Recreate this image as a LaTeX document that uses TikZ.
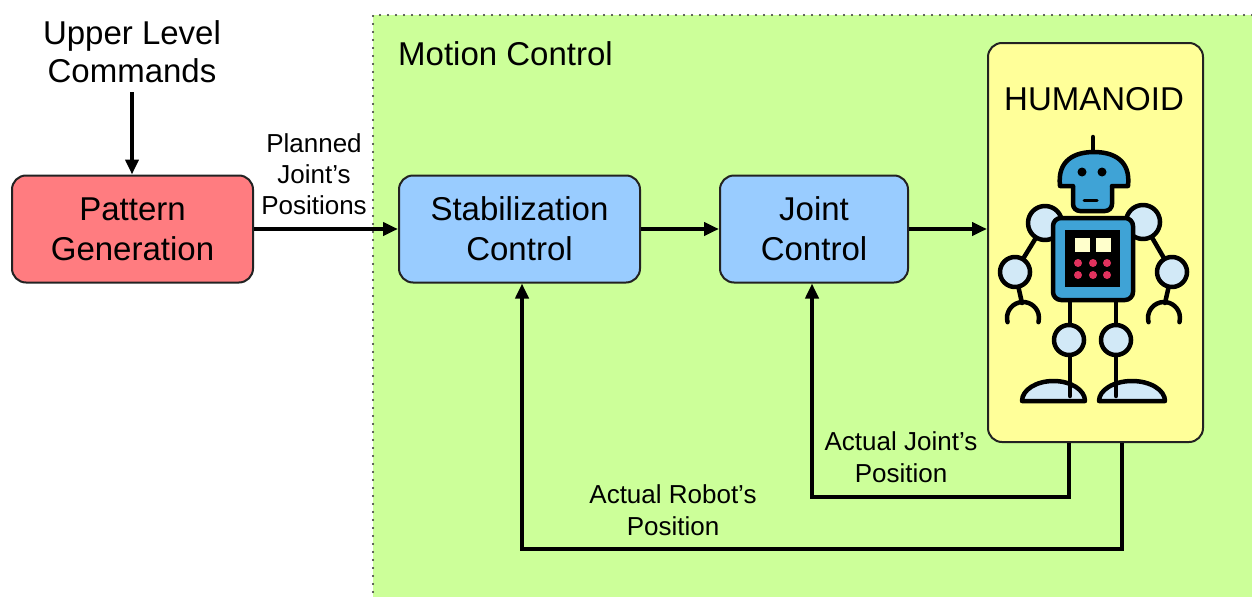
\documentclass[tikz,border=0pt]{standalone}
\usepackage{fontspec}
\setmainfont{Liberation Sans}
\usetikzlibrary{arrows.meta}
\definecolor{zone}{HTML}{CCFF99}
\definecolor{pgred}{HTML}{FF7C80}
\definecolor{ctlblue}{HTML}{99CCFF}
\definecolor{robotbox}{HTML}{FFFF99}
\definecolor{boxline}{HTML}{222222}
\definecolor{rbblue}{HTML}{3FA3D6}
\definecolor{rbjoint}{HTML}{D2E9F7}
\definecolor{rbred}{HTML}{E2325E}
\definecolor{rbscreen}{HTML}{FFFFCC}
\begin{document}
\begin{tikzpicture}[x=1pt,y=-1pt,
  box/.style={draw=boxline, line width=2pt, rounded corners=14pt,
    font=\fontsize{33}{40}\selectfont, align=center, inner sep=0pt},
  arr/.style={-{Triangle[length=15pt,width=13pt]}, line width=3.8pt},
  lbl/.style={font=\fontsize{26}{32}\selectfont, align=center, inner sep=0pt},
  rb/.style={line width=4.5pt, draw=black, line cap=round, line join=round}]
\useasboundingbox (0,0) rectangle (1252,597);

% motion control zone, dotted on its top and left sides
\fill[zone] (373,15) rectangle (1252,597);
\draw[draw=black!80, line width=2.4pt, line cap=round, dash pattern=on 0pt off 8pt]
  (1252,15) -- (373,15) -- (373,597);
\node[anchor=base west, font=\fontsize{33}{40}\selectfont, inner sep=0pt] (mc) at (398,65) {Motion Control};

% blocks
\node[box, fill=pgred, minimum width=241pt, minimum height=107pt] (pg) at (132.5,229) {Pattern\\Generation};
\node[box, fill=ctlblue, minimum width=241pt, minimum height=107pt] (stab) at (519.5,229) {Stabilization\\Control};
\node[box, fill=ctlblue, minimum width=188pt, minimum height=107pt] (jc) at (814,229) {Joint\\Control};
\node[box, fill=robotbox, minimum width=215pt, minimum height=399pt] (hum) at (1095.5,242.5) {};
\node[anchor=base, font=\fontsize{33}{40}\selectfont, inner sep=0pt] (humt) at (1094,110) {HUMANOID};

% texts
\node[font=\fontsize{33}{38}\selectfont, align=center, inner sep=0pt] (ulc) at (132,52) {Upper Level\\Commands};
\node[lbl, font=\fontsize{26}{31}\selectfont] (pjp) at (314,174) {Planned\\Joint’s\\Positions};
\node[lbl] (ajp) at (901,457) {Actual Joint’s\\Position};
\node[lbl] (arp) at (673,510) {Actual Robot’s\\Position};

% signal flow
\draw[arr] (ulc.south |- 0,92) -- (pg.north -| ulc.south);
\draw[arr] (pg.east) -- (stab.west);
\draw[arr] (stab.east) -- (jc.west);
\draw[arr] (jc.east) -- (hum.west |- jc.east);
\draw[arr] ([xshift=-26.5pt]hum.south) -- ++(0,54) -| ([xshift=-2pt]jc.south);
\draw[arr] ([xshift=26.5pt]hum.south) -- ++(0,106) -| ([xshift=2.5pt]stab.south);

% robot: arms and hands
\draw[rb] (1045,223) -- (1015,272) -- (1022,303);
\draw[rb] (1143,222) -- (1172,272) -- (1165,303);
\draw[rb] (1023,318) ++(165:16) arc[start angle=165, end angle=375, radius=16];
\draw[rb] (1164,318) ++(165:16) arc[start angle=165, end angle=375, radius=16];
% feet and legs
\filldraw[rb, fill=rbjoint] (1022,401) arc[start angle=180, end angle=360, x radius=31.5, y radius=20] -- cycle;
\filldraw[rb, fill=rbjoint] (1099,401) arc[start angle=180, end angle=360, x radius=33, y radius=20] -- cycle;
\draw[rb] (1070,295) -- (1070,396);
\draw[rb] (1116,295) -- (1116,396);
% joints
\foreach \p/\r in {{1045,223}/17, {1143,222}/17, {1015,272}/15, {1172,272}/15, {1069,340}/15, {1116,340}/15}
  \filldraw[rb, fill=rbjoint] (\p) circle[radius=\r];
% torso
\filldraw[rb, fill=rbblue, rounded corners=8pt] (1053,218) rectangle (1133,300);
\fill[black] (1065,230) rectangle (1120,287);
\fill[rbscreen] (1075,238) rectangle (1090,252);
\fill[rbscreen] (1096,238) rectangle (1111,252);
\foreach \x in {1078,1093,1107}
  \foreach \y in {263,275}
    \fill[rbred] (\x,\y) circle[radius=4];
% head: antenna, face and dome
\draw[rb] (1093,137) -- (1093,152);
\filldraw[rb, fill=rbblue, rounded corners=7pt] (1073,180) -- (1073,211) -- (1112,211) -- (1112,180);
\fill[rbblue] (1060,186) .. controls (1057,160) and (1075,152) .. (1094,152)
  .. controls (1113,152) and (1131,160) .. (1128,186) -- cycle;
\draw[rb] (1073,186) -- (1060,186) .. controls (1057,160) and (1075,152) .. (1094,152)
  .. controls (1113,152) and (1131,160) .. (1128,186) -- (1112,186);
\fill[black] (1082,172) circle[radius=4.5];
\fill[black] (1102,172) circle[radius=4.5];
\draw[rb, line width=3pt] (1084,200) -- (1097,200);
\end{tikzpicture}
\end{document}
